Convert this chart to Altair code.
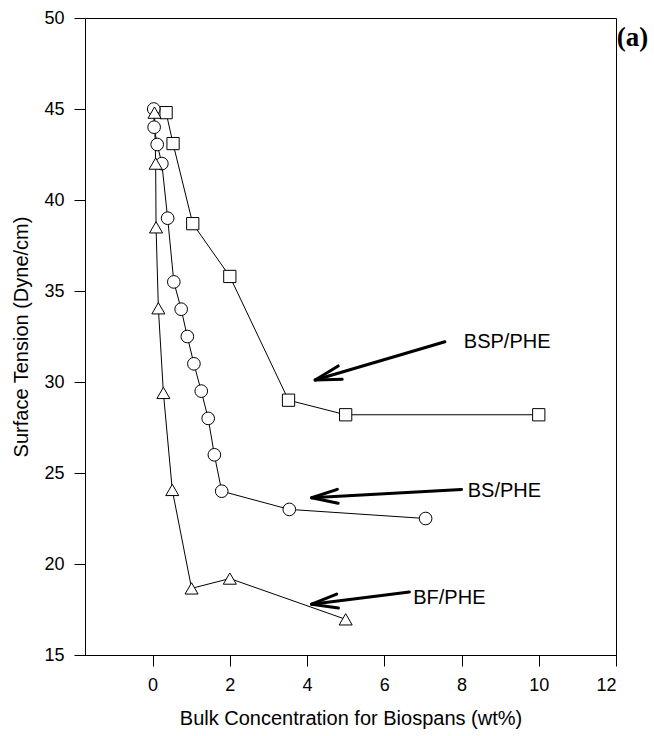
import altair as alt
import pandas as pd
import math

# Surface tension vs. bulk concentration for three biospan blends
bsp_x = [0.35, 0.53, 1.04, 2.0, 3.52, 5.0, 10.0]
bsp_y = [44.8, 43.1, 38.7, 35.8, 29.0, 28.2, 28.2]

bs_x = [0.03, 0.04, 0.12, 0.24, 0.39, 0.55, 0.74, 0.9, 1.07, 1.26, 1.44, 1.6, 1.79, 3.54, 7.07]
bs_y = [45.0, 44.0, 43.05, 42.0, 39.0, 35.5, 34.0, 32.5, 31.0, 29.5, 28.0, 26.0, 24.0, 23.0, 22.5]

bf_x = [0.05, 0.08, 0.09, 0.15, 0.28, 0.51, 1.01, 2.0, 5.0]
bf_y = [44.8, 42.0, 38.5, 34.05, 29.4, 24.07, 18.66, 19.2, 16.96]

series_names = ["BSP/PHE", "BS/PHE", "BF/PHE"]
series_shapes = ["square", "circle", "triangle-up"]

# Annotation labels and arrows (tail -> head), in data units
label_x = [8.06, 8.16, 6.75]
label_y = [32.21, 24.01, 18.15]
arrow_tail_x = [7.57, 8.0, 6.65]
arrow_tail_y = [32.21, 24.1, 18.46]
arrow_head_x = [4.21, 4.12, 4.12]
arrow_head_y = [30.11, 23.64, 17.79]

x_ticks = [0, 2, 4, 6, 8, 10, 12]
y_ticks = [15, 20, 25, 30, 35, 40, 45, 50]

X_DOMAIN = [-1.75, 12]
Y_DOMAIN = [15, 50]
W, H = 531, 637

rows = []
for name, xs, ys in zip(series_names, [bsp_x, bs_x, bf_x], [bsp_y, bs_y, bf_y]):
    for i, (xv, yv) in enumerate(zip(xs, ys)):
        rows.append({"series": name, "idx": i, "conc": xv, "tension": yv})
df = pd.DataFrame(rows)

x_scale = alt.Scale(domain=X_DOMAIN, nice=False, zero=False)
y_scale = alt.Scale(domain=Y_DOMAIN, nice=False, zero=False)

x_enc = alt.X("conc:Q", scale=x_scale, title="Bulk Concentration for Biospans (wt%)",
              axis=alt.Axis(values=x_ticks, grid=False, tickSize=11, labelPadding=10,
                            titlePadding=14, domainColor="black", tickColor="black"))
y_enc = alt.Y("tension:Q", scale=y_scale, title="Surface Tension (Dyne/cm)",
              axis=alt.Axis(values=y_ticks, grid=False, tickSize=11, labelPadding=10,
                            titlePadding=12, domainColor="black", tickColor="black"))

lines = alt.Chart(df).mark_line(color="black", strokeWidth=1).encode(
    x=x_enc, y=y_enc, detail="series:N", order="idx:Q"
)

points = alt.Chart(df).mark_point(filled=True, fill="white", stroke="black",
                                  strokeWidth=1, opacity=1).encode(
    x="conc:Q", y="tension:Q",
    shape=alt.Shape("series:N", scale=alt.Scale(domain=series_names, range=series_shapes),
                    legend=None),
    size=alt.Size("series:N", scale=alt.Scale(domain=series_names, range=[150, 170, 150]),
                  legend=None),
)

# Arrow shafts plus two wings for each open arrowhead
px_per_x = W / (X_DOMAIN[1] - X_DOMAIN[0])
px_per_y = H / (Y_DOMAIN[1] - Y_DOMAIN[0])
wing_len, wing_ang = 27, math.radians(15)
seg = []
for tx, ty, hx, hy in zip(arrow_tail_x, arrow_tail_y, arrow_head_x, arrow_head_y):
    seg.append({"x": tx, "y": ty, "x2": hx, "y2": hy})
    dxp = (tx - hx) * px_per_x
    dyp = -(ty - hy) * px_per_y
    base = math.atan2(dyp, dxp)
    for s in (-1, 1):
        a = base + s * wing_ang
        wx = hx + wing_len * math.cos(a) / px_per_x
        wy = hy - wing_len * math.sin(a) / px_per_y
        seg.append({"x": hx, "y": hy, "x2": wx, "y2": wy})
seg_df = pd.DataFrame(seg)

arrows = alt.Chart(seg_df).mark_rule(color="black", strokeWidth=3, strokeCap="round").encode(
    x=alt.X("x:Q", scale=x_scale), y=alt.Y("y:Q", scale=y_scale),
    x2="x2:Q", y2="y2:Q"
)

lab_df = pd.DataFrame({"x": label_x, "y": label_y, "text": series_names})
labels = alt.Chart(lab_df).mark_text(align="left", baseline="middle", font="Liberation Sans",
                                     fontSize=20, color="black").encode(
    x=alt.X("x:Q", scale=x_scale), y=alt.Y("y:Q", scale=y_scale), text="text:N"
)

panel_df = pd.DataFrame({"x": [12.02], "y": [48.9], "text": ["(a)"]})
panel = alt.Chart(panel_df).mark_text(align="left", baseline="middle", font="Liberation Serif",
                                      fontSize=27, fontWeight="bold", color="black").encode(
    x=alt.X("x:Q", scale=x_scale), y=alt.Y("y:Q", scale=y_scale), text="text:N"
)

chart = alt.layer(lines, arrows, points, labels, panel).properties(
    width=W, height=H,
    background="white",
    autosize=alt.AutoSizeParams(type="none"),
    padding={"left": 85, "top": 18, "right": 38, "bottom": 81},
).configure_view(
    stroke="black", strokeWidth=1
).configure_axis(
    labelFont="Liberation Sans", labelFontSize=18, labelColor="black",
    titleFont="Liberation Sans", titleFontSize=20, titleFontWeight="normal", titleColor="black",
    domainWidth=1, tickWidth=1
)

chart.save("out.html", embed_options={"renderer": "svg", "actions": False})
